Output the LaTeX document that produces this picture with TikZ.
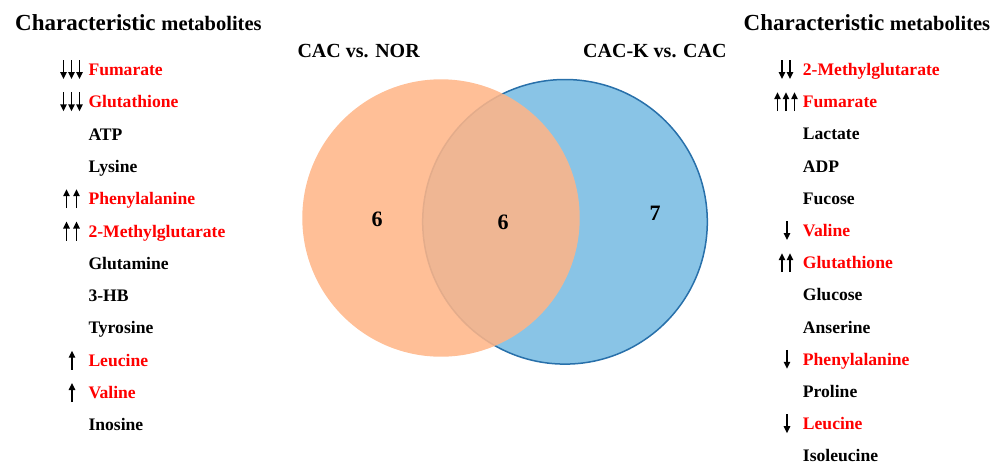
\documentclass[tikz,border=0pt]{standalone}
\usepackage{fontspec}
\setmainfont{Liberation Serif}
\usetikzlibrary{arrows.meta}
\definecolor{myred}{RGB}{255,0,0}
\definecolor{orfill}{RGB}{255,181,135}
\definecolor{blfill}{RGB}{137,196,230}
\definecolor{blline}{RGB}{40,112,170}
\begin{document}
\begin{tikzpicture}[x=1pt,y=-1pt,
  lab/.style={anchor=base west, inner sep=0pt, font=\fontsize{17.6}{20}\selectfont\bfseries},
  hit/.style={lab, text=myred},
  plain/.style={lab, text=black},
  ttl/.style={anchor=base west, inner sep=0pt, font=\bfseries},
  grp/.style={anchor=base west, inner sep=0pt, font=\fontsize{20}{22}\selectfont\bfseries},
  arr/.style={line width=1.4pt, -{Triangle[width=6.5pt,length=7pt]}},
  num/.style={font=\fontsize{22}{24}\selectfont\bfseries, inner sep=0pt}
]
\useasboundingbox (0,0) rectangle (998,463);

% Venn circles
\node[circle, draw=blline, fill=blfill, line width=1.5pt, minimum size=284.6pt, inner sep=0pt] (setB) at (565,221.8) {};
\node[circle, fill=orfill, fill opacity=0.87, minimum size=277.4pt, inner sep=0pt] (setA) at (441,218) {};

\node[num] (nA) at (377,219) {6};
\node[num] (nAB) at (503,222) {6};
\node[num] (nB) at (655,213) {7};

\node[grp] (gA) at (297.3,57) {CAC vs. NOR};
\node[grp] (gB) at (583,57) {CAC-K vs. CAC};

% Titles
\node[ttl] (tL) at (15,30.5) {\fontsize{23}{25}\selectfont Characteristic \fontsize{20.5}{22}\selectfont metabolites};
\node[ttl] (tR) at (743.5,30.5) {\fontsize{23}{25}\selectfont Characteristic \fontsize{20.5}{22}\selectfont metabolites};

% Left list
\foreach \t/\s [count=\i from 0] in {Fumarate/hit, Glutathione/hit, ATP/plain, Lysine/plain, Phenylalanine/hit, 2-Methylglutarate/hit, Glutamine/plain, 3-HB/plain, Tyrosine/plain, Leucine/hit, Valine/hit, Inosine/plain}
  \node[\s] (L\i) at (88.3,75.5+32.3*\i) {\t};

% Right list
\foreach \t/\s [count=\i from 0] in {2-Methylglutarate/hit, Fumarate/hit, Lactate/plain, ADP/plain, Fucose/plain, Valine/hit, Glutathione/hit, Glucose/plain, Anserine/plain, Phenylalanine/hit, Proline/plain, Leucine/hit, Isoleucine/plain}
  \node[\s] (R\i) at (802.7,75.5+32.2*\i) {\t};

% arrow helpers: \dnar{x}{row}{spacing}, \upar{x}{row}{spacing}
\newcommand{\dnar}[3]{\draw[arr] ({#1},{69.5+#3*#2-9.5}) -- ({#1},{69.5+#3*#2+9.5});}
\newcommand{\upar}[3]{\draw[arr] ({#1},{69.5+#3*#2+9.5}) -- ({#1},{69.5+#3*#2-9.5});}

% Left arrows
\dnar{63.5}{0}{32.3}\dnar{71.5}{0}{32.3}\dnar{79.5}{0}{32.3}
\dnar{63.5}{1}{32.3}\dnar{71.5}{1}{32.3}\dnar{79.5}{1}{32.3}
\upar{66.5}{4}{32.3}\upar{76.5}{4}{32.3}
\upar{66.5}{5}{32.3}\upar{76.5}{5}{32.3}
\upar{72}{9}{32.3}
\upar{72}{10}{32.3}

% Right arrows
\dnar{782}{0}{32.2}\dnar{790}{0}{32.2}
\upar{777.5}{1}{32.2}\upar{786}{1}{32.2}\upar{794.5}{1}{32.2}
\dnar{787}{5}{32.2}
\upar{782}{6}{32.2}\upar{790}{6}{32.2}
\dnar{787}{9}{32.2}
\dnar{787}{11}{32.2}
\end{tikzpicture}
\end{document}
